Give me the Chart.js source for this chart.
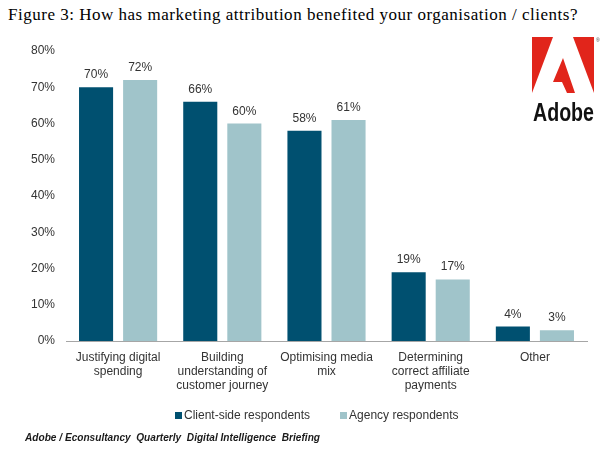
<!DOCTYPE html>
<html>
<head>
<meta charset="utf-8">
<script src="https://cdn.jsdelivr.net/npm/chart.js@4.4.1/dist/chart.umd.min.js"></script>
<style>
  body { margin: 0; background: #fff; }
  #wrap { position: relative; width: 612px; height: 454px; overflow: hidden; }
  #chart { position: absolute; left: 0; top: 0; }
  #title { position: absolute; left: 8px; top: 5px; font-family: "Liberation Serif", "DejaVu Serif", serif; font-size: 17px; color: #000; white-space: nowrap; }
  #source { position: absolute; left: 25px; top: 431px; font-family: "Liberation Sans", Arial, sans-serif; font-size: 11.5px; font-weight: bold; font-style: italic; color: #1a1a1a; white-space: pre; transform-origin: 0 0; }
  #legend { position: absolute; top: 408px; left: 175px; font-family: "Liberation Sans", Arial, sans-serif; font-size: 12px; color: #333; white-space: nowrap; }
  #legend span.item { display: inline-block; margin-right: 30px; }
  #legend span.box { display: inline-block; width: 7px; height: 7px; margin-right: 2px; vertical-align: 0px; }
  #logo { position: absolute; left: 528px; top: 34px; }
</style>
</head>
<body>
<div id="wrap">
  <div id="title">Figure 3: How has marketing attribution benefited your organisation / clients?</div>
  <canvas id="chart" width="612" height="454"></canvas>
  <div id="legend"></div>
  <div id="source">Adobe / Econsultancy  Quarterly  Digital Intelligence  Briefing</div>
  <svg id="logo" width="76" height="92" viewBox="0 0 76 92">
    <polygon points="4,3 25,3 4,59" fill="#e1251b"/>
    <polygon points="45,3 66,3 66,59" fill="#e1251b"/>
    <polygon points="35,24 47,59 39,59 34,48 25,48" fill="#e1251b"/>
    <text x="68" y="8" font-family="Liberation Sans, Arial, sans-serif" font-size="5" fill="#444">®</text>
    <text x="5" y="87" textLength="61" lengthAdjust="spacingAndGlyphs" font-family="Liberation Sans, Arial, sans-serif" font-weight="bold" font-size="25" fill="#111">Adobe</text>
  </svg>
</div>
<script>
var categories = [
  ["Justifying digital", "spending"],
  ["Building", "understanding of", "customer journey"],
  ["Optimising media", "mix"],
  ["Determining", "correct affiliate", "payments"],
  "Other"
];
var seriesNames = ["Client-side respondents", "Agency respondents"];
var clientValues = [70, 66, 58, 19, 4];
var agencyValues = [72, 60, 61, 17, 3];
var tickValues = [0, 10, 20, 30, 40, 50, 60, 70, 80];
var colors = ["#005070", "#a0c4ca"];

var FONT = "'Liberation Sans', Arial, sans-serif";

// stretch the title a little so it spans the same width as the original
var titleEl = document.getElementById("title");
var tw = titleEl.getBoundingClientRect().width;
titleEl.style.letterSpacing = ((570 - tw) / titleEl.textContent.length) + "px";

// source line is a narrow font in the original, squeeze it to the same width
var srcEl = document.getElementById("source");
var sw = srcEl.getBoundingClientRect().width;
srcEl.style.transform = "scaleX(" + (295 / sw) + ")";

// legend built by hand so the box/text spacing matches
var legendEl = document.getElementById("legend");
seriesNames.forEach(function (name, i) {
  var item = document.createElement("span");
  item.className = "item";
  var box = document.createElement("span");
  box.className = "box";
  box.style.background = colors[i];
  item.appendChild(box);
  item.appendChild(document.createTextNode(name));
  legendEl.appendChild(item);
});

var valueLabels = {
  id: "valueLabels",
  afterDatasetsDraw: function (chart) {
    var ctx = chart.ctx;
    ctx.save();
    ctx.font = "12px " + FONT;
    ctx.fillStyle = "#333";
    ctx.textAlign = "center";
    ctx.textBaseline = "alphabetic";
    chart.data.datasets.forEach(function (ds, i) {
      chart.getDatasetMeta(i).data.forEach(function (bar, j) {
        ctx.fillText(ds.data[j] + "%", bar.x, bar.y - 9);
      });
    });
    ctx.restore();
  }
};

var ctx = document.getElementById("chart").getContext("2d");
var myChart = new Chart(ctx, {
  type: "bar",
  data: {
    labels: categories,
    datasets: [
      { label: seriesNames[0], data: clientValues, backgroundColor: colors[0] },
      { label: seriesNames[1], data: agencyValues, backgroundColor: colors[1] }
    ]
  },
  options: {
    responsive: false,
    animation: false,
    layout: { padding: { left: 0, right: 25, top: 51, bottom: 56 } },
    datasets: { bar: { categoryPercentage: 0.846, barPercentage: 0.773 } },
    plugins: {
      legend: { display: false },
      tooltip: { enabled: false }
    },
    scales: {
      x: {
        grid: { display: false, drawTicks: false },
        border: { display: true, color: "#a6a6a6", width: 1 },
        ticks: { color: "#333", font: { family: FONT, size: 12 }, padding: 9, maxRotation: 0, autoSkip: false },
        afterFit: function (scale) { scale.height = 57; }
      },
      y: {
        min: 0,
        max: 80,
        afterBuildTicks: function (scale) {
          scale.ticks = tickValues.map(function (v) { return { value: v }; });
        },
        grid: { display: false, drawTicks: false },
        border: { display: false },
        ticks: {
          color: "#333",
          font: { family: FONT, size: 12 },
          padding: 11,
          callback: function (v) { return v + "%"; }
        },
        afterFit: function (scale) { scale.width = 66; }
      }
    }
  },
  plugins: [valueLabels]
});
</script>
</body>
</html>
